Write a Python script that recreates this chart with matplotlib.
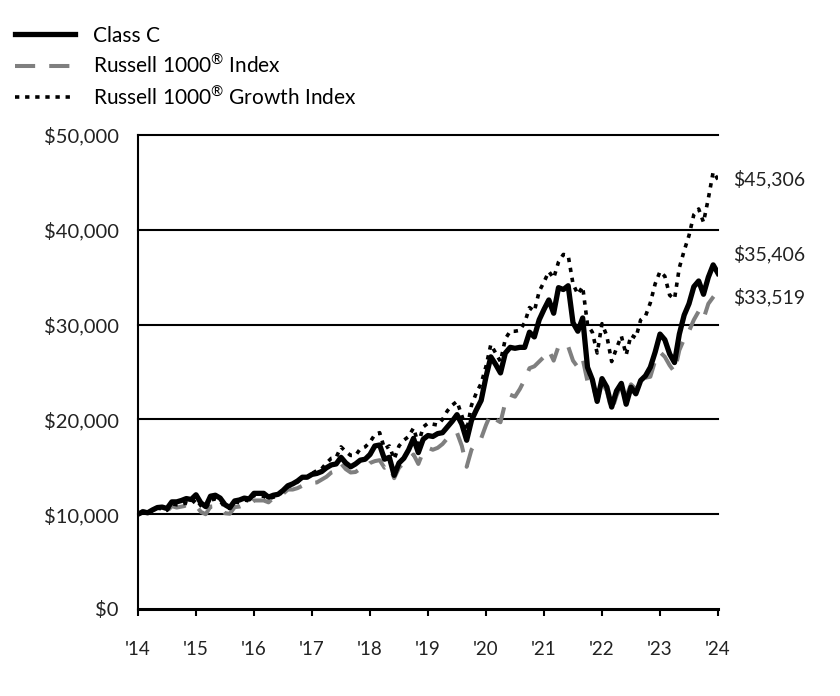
import matplotlib
matplotlib.use("Agg")
import matplotlib.pyplot as plt
import numpy as np

# growth of $10,000, month-end values, Jul 2014 .. Jul 2024
class_c = [10000, 10250, 10150, 10450, 10700, 10750, 10600, 11300, 11300, 11450, 11650, 11550,
           12050, 11200, 10800, 11900, 12000, 11700, 11000, 10700, 11400, 11500, 11700, 11600,
           12200, 12200, 12200, 11800, 12000, 12100, 12500, 13000, 13200, 13500, 13900, 13900,
           14200, 14300, 14500, 14900, 15200, 15300, 16000, 15400, 15000, 15300, 15700, 15800,
           16300, 17200, 17300, 15800, 16000, 14100, 15400, 15900, 16800, 18000, 16500, 17900,
           18300, 18200, 18500, 18600, 19200, 19800, 20500, 19500, 17800, 19900, 21000, 22000,
           24500, 26600, 25800, 24900, 27000, 27600, 27500, 27600, 27600, 29200, 28700, 30500,
           31600, 32600, 31200, 33900, 33700, 34100, 30200, 29300, 30700, 25500, 24200, 21900,
           24300, 23400, 21300, 23000, 23800, 21600, 23400, 22700, 24100, 24600, 25500, 27100,
           29000, 28400, 26900, 26000, 29000, 31000, 32200, 34000, 34600, 33200, 35000, 36300,
           35406]

r1000 = [10000, 10350, 10150, 10400, 10650, 10600, 10300, 10850, 10700, 10800, 10900, 10700,
         10900, 10250, 10000, 10800, 10850, 10650, 10100, 10050, 10750, 10800, 11000, 11000,
         11450, 11450, 11450, 11250, 11700, 11900, 12150, 12600, 12600, 12750, 13000, 13100,
         13300, 13350, 13650, 13950, 14400, 14550, 15350, 14750, 14400, 14450, 14800, 14900,
         15400, 15600, 15700, 14900, 15200, 13800, 14900, 15400, 15700, 16300, 15300, 16600,
         17000, 16800, 17000, 17400, 18000, 18500, 18600, 17200, 15000, 16800, 17600, 18000,
         19400, 20600, 20000, 19700, 21800, 22600, 22400, 23200, 24200, 25400, 25600, 26100,
         26600, 27300, 26200, 27700, 27400, 27700, 26200, 25500, 26400, 24000, 23900, 21900,
         23900, 23000, 20900, 22500, 23700, 22400, 23700, 23200, 24000, 24400, 24500, 26200,
         27100, 26600, 25700, 25000, 27300, 28500, 29300, 30500, 31400, 30600, 32200, 32900,
         33519]

r1000_growth = [10000, 10200, 10150, 10400, 10650, 10550, 10400, 11100, 11000, 11050, 11200, 11050,
                11600, 10900, 10600, 11500, 11600, 11400, 10700, 10600, 11300, 11200, 11500, 11400,
                12000, 11900, 11900, 11600, 11800, 11900, 12500, 12900, 13100, 13400, 13900, 13900,
                14300, 14600, 14800, 15400, 15900, 16000, 17100, 16600, 16200, 16200, 16900, 17100,
                17600, 18400, 18600, 16900, 17200, 15800, 17200, 17800, 18200, 19100, 17400, 19200,
                19600, 19500, 19400, 20000, 20900, 21500, 21900, 20400, 18800, 21500, 22800, 23800,
                25600, 27900, 27000, 26100, 28500, 29300, 29300, 29400, 30200, 31800, 31400, 33500,
                34500, 35600, 34900, 36600, 37400, 37300, 34300, 33200, 34000, 30000, 29200, 27000,
                30100, 28800, 26100, 27500, 28800, 26800, 28900, 28600, 30500, 30900, 32300, 34300,
                35600, 35100, 33100, 32700, 36000, 37800, 39400, 41600, 42200, 40800, 43300, 46100,
                45306]

year_labels = ["'14", "'15", "'16", "'17", "'18", "'19", "'20", "'21", "'22", "'23", "'24"]
y_ticks = [0, 10000, 20000, 30000, 40000, 50000]

plt.rcParams['font.family'] = ['Lato', 'DejaVu Sans']

fig = plt.figure(figsize=(8.4, 6.96), dpi=100)
ax = fig.add_axes([138/840, 1-609/696, 580/840, 474/696])

x = np.arange(len(class_c))

l_r, = ax.plot(x, r1000, color='#7f7f7f', lw=2.9, solid_capstyle='butt', dash_capstyle='butt',
               label=r'Russell 1000$^{\mathregular{®}}$ Index', zorder=3)
l_r.set_dashes([5, 3.5])
l_g, = ax.plot(x, r1000_growth, color='black', lw=2.6, dash_capstyle='butt',
               label=r'Russell 1000$^{\mathregular{®}}$ Growth Index', zorder=4)
l_g.set_dashes([1.2, 1.6])
l_c, = ax.plot(x, class_c, color='black', lw=3.8, label='Class C', zorder=5)

ax.set_xlim(0, len(class_c) - 1)
ax.set_ylim(0, 50000)
ax.set_xticks(np.arange(0, len(class_c), 12))
ax.set_xticklabels(year_labels)
ax.set_yticks(y_ticks)
ax.set_yticklabels(['${:,.0f}'.format(v) for v in y_ticks])

for v in y_ticks[1:]:
    ax.axhline(v, color='black', lw=1.5, zorder=2, clip_on=False)

ax.spines['right'].set_visible(False)
ax.spines['top'].set_visible(False)
ax.spines['left'].set_linewidth(1.5)
ax.spines['bottom'].set_linewidth(2.2)
ax.tick_params(axis='y', length=0, pad=14, labelsize=14.5, labelcolor='#222222')
ax.tick_params(axis='x', length=5, width=1.5, pad=18, labelsize=13.5, labelcolor='#222222')

last = len(class_c) - 1
end_labels = [(r1000_growth[-1], 0), (class_c[-1], 14), (r1000[-1], -4)]
for val, dy in end_labels:
    ax.annotate('${:,.0f}'.format(val), xy=(last, val), xytext=(11, dy),
                textcoords='offset points', va='center', ha='left',
                fontsize=14, color='#222222', annotation_clip=False)

fig.legend(handles=[l_c, l_r, l_g], loc='upper left', bbox_to_anchor=(0.008, 0.975),
           frameon=False, fontsize=15, handlelength=2.9, handletextpad=0.85,
           labelspacing=0.38, borderaxespad=0)

fig.savefig('out.png', dpi=100)
